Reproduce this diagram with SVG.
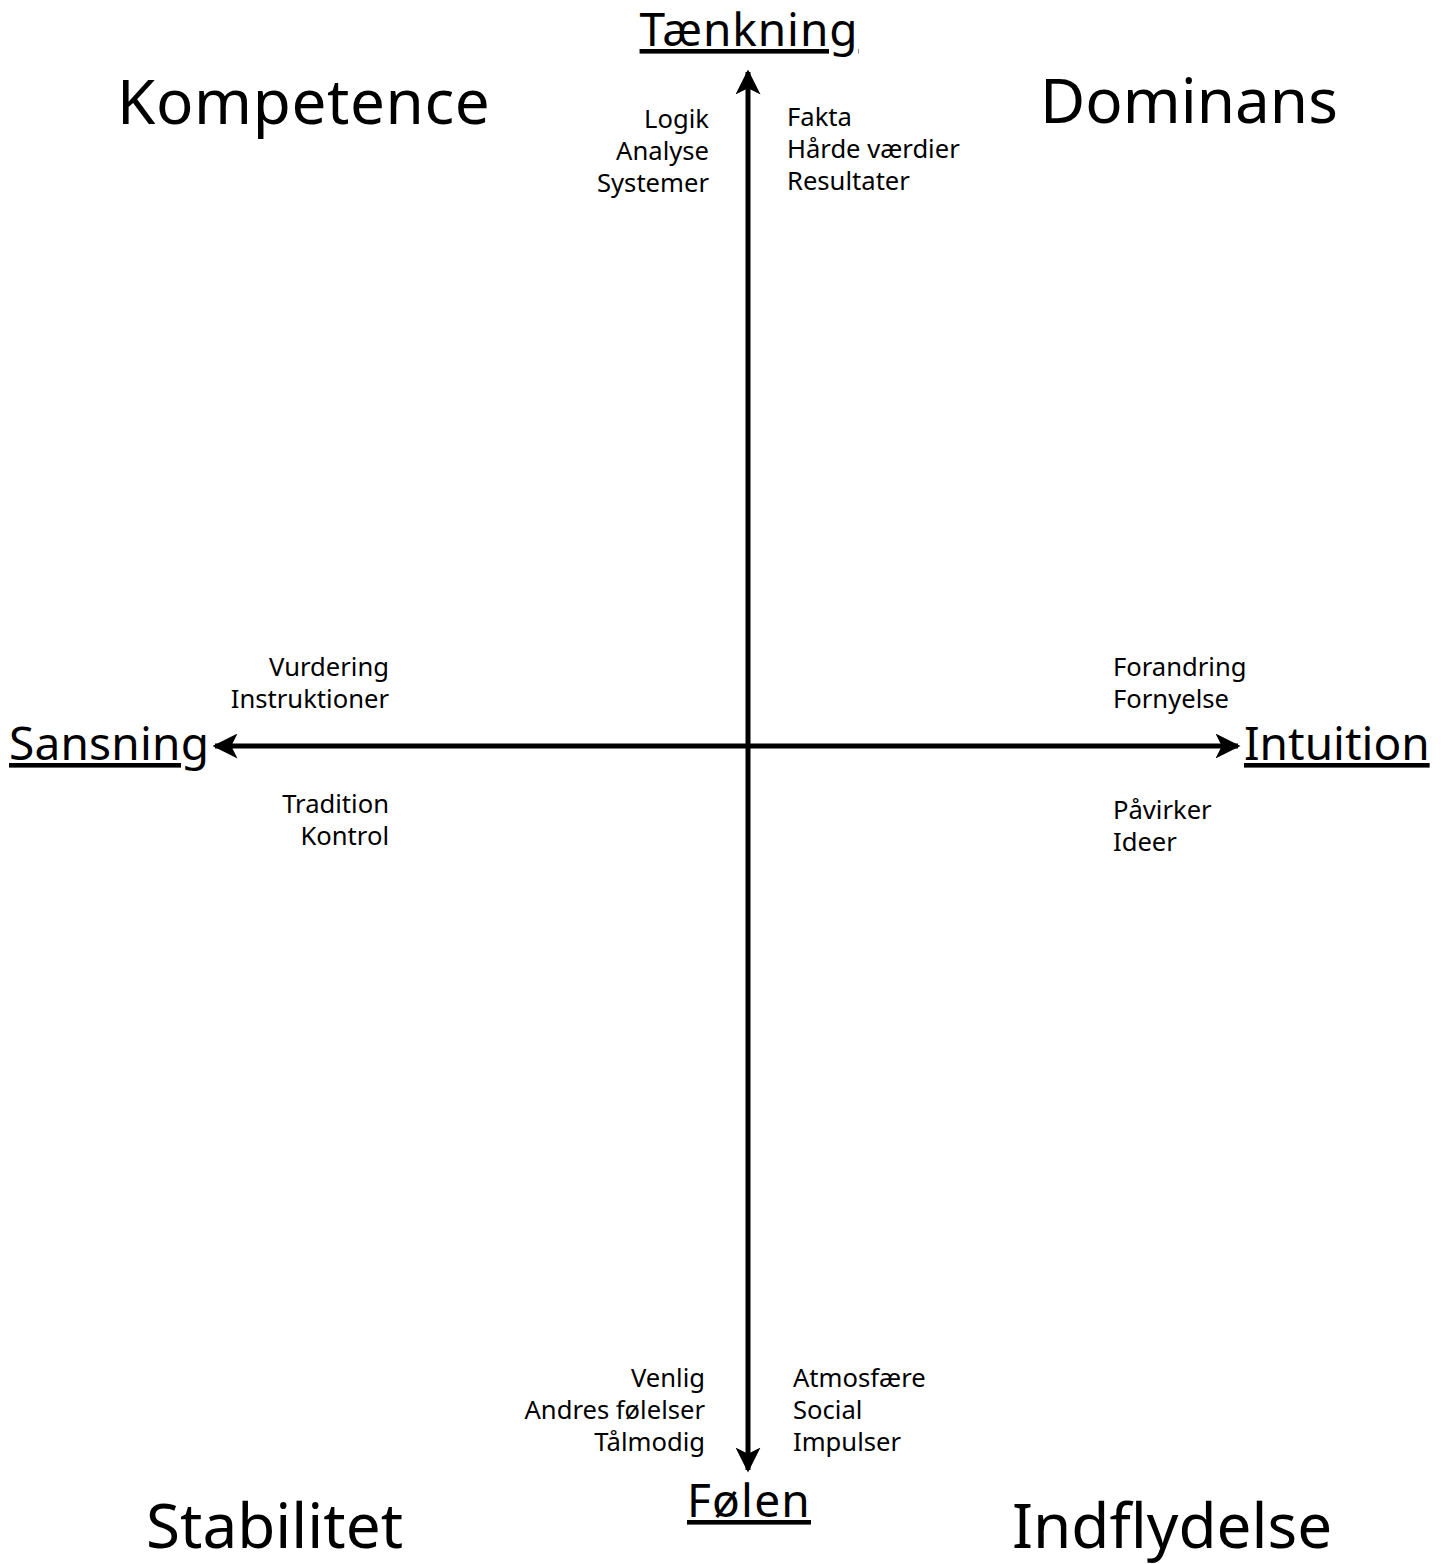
<svg xmlns="http://www.w3.org/2000/svg" width="1446" height="1564" viewBox="0 0 1446 1564">
<style>
text{font-family:"Noto Sans","Open Sans",sans-serif;fill:#000}
.q{font-size:62px}
.ax{font-size:46px;text-decoration:underline}
.s{font-size:25.6px}
.r{text-anchor:end}
.c{text-anchor:middle}
</style>
<defs>
<marker id="ah" viewBox="0 0 10 10" refX="9" refY="5" markerWidth="5" markerHeight="5" orient="auto" markerUnits="strokeWidth">
<path d="M0,0 L10,5 L0,10 L2.5,5 z" fill="#000"/>
</marker>
</defs>
<rect width="1446" height="1564" fill="#fff"/>
<g id="connectors" stroke="#000" stroke-width="5" fill="none">
<line x1="748" y1="746" x2="748" y2="72" marker-end="url(#ah)"/>
<line x1="748" y1="746" x2="748" y2="1470" marker-end="url(#ah)"/>
<line x1="748" y1="746" x2="215" y2="746" marker-end="url(#ah)"/>
<line x1="748" y1="746" x2="1238" y2="746" marker-end="url(#ah)"/>
</g>
<g id="kompetence"><text class="q" x="117" y="124" letter-spacing="0.6">Kompetence</text></g>
<g id="dominans"><text class="q" x="1040" y="123">Dominans</text></g>
<g id="stabilitet"><text class="q" x="146" y="1548">Stabilitet</text></g>
<g id="indflydelse"><text class="q" x="1012" y="1548">Indflydelse</text></g>
<g id="taenkning"><text class="ax c" x="749" y="46" letter-spacing="0.9">Tænkning</text></g>
<g id="folen"><text class="ax c" x="749" y="1517" letter-spacing="1.2">Følen</text></g>
<g id="sansning"><text class="ax" x="9" y="760" letter-spacing="0.2">Sansning</text></g>
<g id="intuition"><text class="ax" x="1244" y="760">Intuition</text></g>
<g id="tl"><text class="s r" x="709" y="128">Logik</text><text class="s r" x="709" y="160">Analyse</text><text class="s r" x="709" y="192">Systemer</text></g>
<g id="tr"><text class="s" x="787" y="126">Fakta</text><text class="s" x="787" y="158">Hårde værdier</text><text class="s" x="787" y="190">Resultater</text></g>
<g id="lu"><text class="s r" x="389" y="676">Vurdering</text><text class="s r" x="389" y="708">Instruktioner</text></g>
<g id="ld"><text class="s r" x="389" y="813">Tradition</text><text class="s r" x="389" y="845">Kontrol</text></g>
<g id="ru"><text class="s" x="1113" y="676">Forandring</text><text class="s" x="1113" y="708">Fornyelse</text></g>
<g id="rd"><text class="s" x="1113" y="819">Påvirker</text><text class="s" x="1113" y="851">Ideer</text></g>
<g id="bl"><text class="s r" x="705" y="1387">Venlig</text><text class="s r" x="705" y="1419">Andres følelser</text><text class="s r" x="705" y="1451">Tålmodig</text></g>
<g id="br"><text class="s" x="793" y="1387">Atmosfære</text><text class="s" x="793" y="1419">Social</text><text class="s" x="793" y="1451">Impulser</text></g>
</svg>
